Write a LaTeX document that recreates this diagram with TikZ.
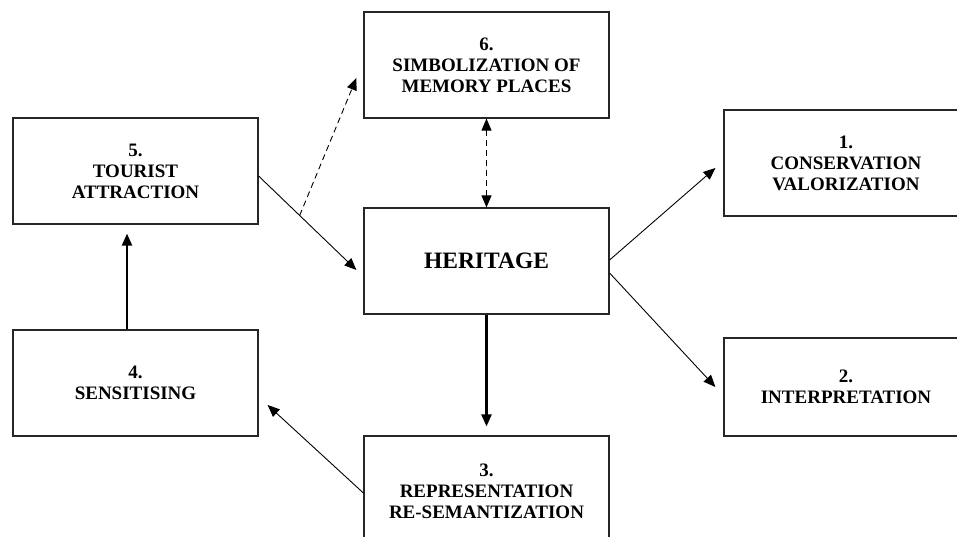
\documentclass[tikz,border=0pt]{standalone}
\usepackage{fontspec}
\setmainfont{Liberation Serif}
\usetikzlibrary{arrows.meta,calc}

\tikzset{
  >={Triangle[length=12pt,width=10pt]},
  box/.style={draw=black!85, line width=1.2pt, minimum width=245pt, minimum height=106pt,
    inner sep=0pt, align=center, font=\fontsize{19}{21}\selectfont\bfseries},
  link/.style={->, line width=0.9pt},
  boldlink/.style={->, line width=2.2pt, shorten >=9pt},
}

\begin{document}
\begin{tikzpicture}[x=1pt,y=-1pt]
  \useasboundingbox (0,0) rectangle (957,537);
  \clip (0,0) rectangle (957,537);

  % boxes
  \node[box] (six) at (486.5,65) {6.\\SIMBOLIZATION OF\\MEMORY PLACES};
  \node[box] (five) at (135.5,171) {5.\\TOURIST\\ATTRACTION};
  \node[box, font=\fontsize{23.5}{26}\selectfont\bfseries] (her) at (486.5,261) {HERITAGE};
  \node[box, minimum width=244pt] (one) at (846,163) {1.\\CONSERVATION\\VALORIZATION};
  \node[box, minimum width=244pt, minimum height=98pt] (two) at (846,387) {2.\\INTERPRETATION};
  \node[box] (four) at (135.5,383) {4.\\SENSITISING};
  \node[box, minimum height=110pt] (three) at (486.5,491) {3.\\REPRESENTATION\\RE-SEMANTIZATION};

  % connectors
  \draw[link] ([yshift=-5pt]five.east) -- coordinate[pos=0.42] (fork) ([xshift=-7pt,yshift=-9pt]her.west);
  \draw[link, dashed, dash pattern=on 6pt off 4pt] (fork) -- ([xshift=-7pt,yshift=-13pt]six.west);
  \draw[link, <->, dashed, dash pattern=on 6pt off 4pt] (six.south) -- (her.north);
  \path[link]
    ([yshift=1pt]her.east) edge ([xshift=-8pt,yshift=-5pt]one.west)
    ([yshift=-12pt]her.east) edge ([xshift=-8pt]two.west)
    ([yshift=-2pt]three.west) edge ([xshift=9pt,yshift=-22pt]four.east);
  \draw[boldlink] (her.south) -- (three.north);
  \draw[boldlink] ([xshift=-8.5pt]four.north) -- ([xshift=-8.5pt]five.south);
\end{tikzpicture}
\end{document}
